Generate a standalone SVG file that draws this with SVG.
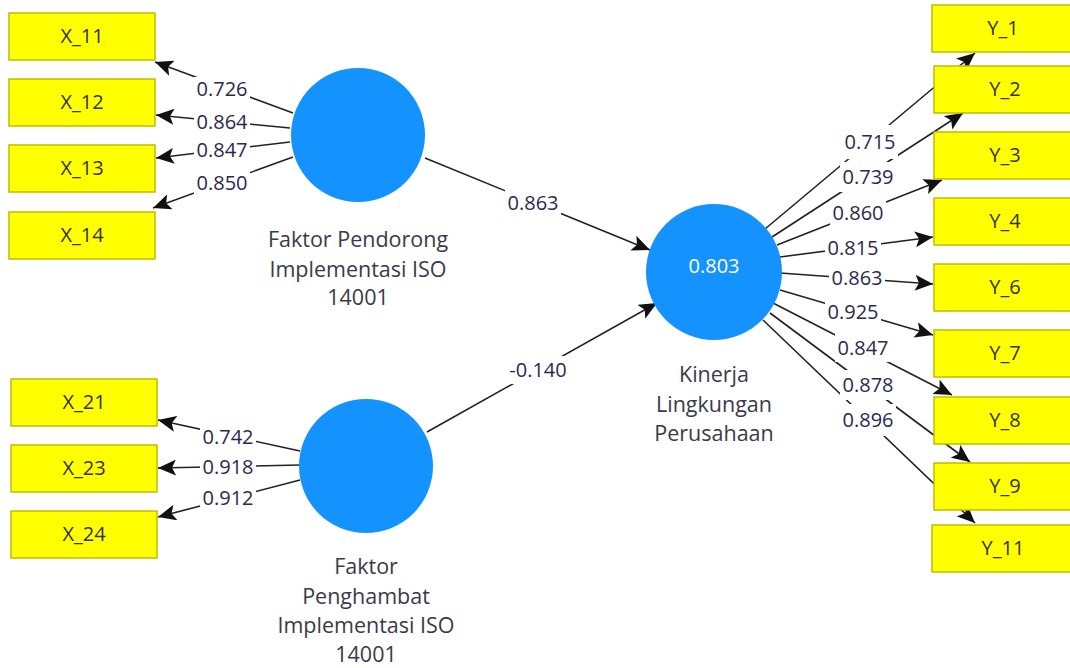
<svg xmlns="http://www.w3.org/2000/svg" width="1070" height="668" viewBox="0 0 1070 668">
  <style>
    text { font-family: "Open Sans", "Noto Sans", "Liberation Sans", sans-serif; font-size: 20px; fill: #333; text-anchor: middle; }
    .ind rect { fill: #ffff00; stroke: #bdbd00; stroke-width: 1.5; }
    .lv circle { fill: #1493ff; }
    .lv text { fill: #3a3a48; font-size: 21.5px; }
    .lv text.r2 { fill: #fff; font-size: 20px; }
    .conn line { stroke: #222; stroke-width: 1.6; marker-end: url(#arrow); }
    .lbl rect { fill: #fff; }
    .lbl text { fill: #2a2a50; }
  </style>
  <defs>
    <marker id="arrow" markerUnits="userSpaceOnUse" markerWidth="18" markerHeight="16" viewBox="0 0 18 16" refX="18" refY="8" orient="auto">
      <path d="M0,0 L18,8 L0,16 L4,8 Z" fill="#111"/>
    </marker>
  </defs>

  <!-- connectors -->
  <g id="connectors" class="conn">
    <line x1="293" y1="113" x2="155" y2="62"/>
    <line x1="290" y1="128" x2="156" y2="115"/>
    <line x1="290" y1="142" x2="156" y2="158"/>
    <line x1="293" y1="157" x2="153" y2="208"/>
    <line x1="300" y1="451" x2="158" y2="420"/>
    <line x1="300" y1="465" x2="158" y2="468"/>
    <line x1="300" y1="480" x2="158" y2="517"/>
    <line x1="425" y1="158" x2="650" y2="250"/>
    <line x1="427" y1="432" x2="657" y2="303"/>
    <line x1="765" y1="229" x2="975" y2="53"/>
    <line x1="772" y1="237" x2="963" y2="113"/>
    <line x1="777" y1="245" x2="942" y2="180"/>
    <line x1="780" y1="257" x2="933" y2="237"/>
    <line x1="780" y1="273" x2="933" y2="284"/>
    <line x1="780" y1="290" x2="933" y2="335"/>
    <line x1="773" y1="303" x2="952" y2="395"/>
    <line x1="770" y1="313" x2="970" y2="462"/>
    <line x1="763" y1="320" x2="975" y2="523"/>
  </g>

  <!-- path coefficients and loadings -->
  <g id="labels" class="lbl">
    <rect x="194" y="77" width="56" height="24"/><text x="222" y="96">0.726</text>
    <rect x="194" y="110" width="56" height="24"/><text x="222" y="129">0.864</text>
    <rect x="194" y="138" width="56" height="24"/><text x="222" y="157">0.847</text>
    <rect x="194" y="171" width="56" height="24"/><text x="222" y="190">0.850</text>
    <rect x="200" y="425" width="56" height="24"/><text x="228" y="444">0.742</text>
    <rect x="200" y="455" width="56" height="24"/><text x="228" y="474">0.918</text>
    <rect x="200" y="486" width="56" height="24"/><text x="228" y="505">0.912</text>
    <rect x="505" y="189" width="56" height="28"/><text x="533" y="210">0.863</text>
    <rect x="506" y="356" width="64" height="28"/><text x="538" y="377">-0.140</text>
    <rect x="842" y="125" width="56" height="34"/><text x="870" y="149">0.715</text>
    <rect x="840" y="162" width="56" height="30"/><text x="868" y="184">0.739</text>
    <rect x="830" y="200" width="56" height="26"/><text x="858" y="220">0.860</text>
    <rect x="825" y="236" width="56" height="24"/><text x="853" y="255">0.815</text>
    <rect x="829" y="266" width="56" height="24"/><text x="857" y="285">0.863</text>
    <rect x="825" y="300" width="56" height="24"/><text x="853" y="319">0.925</text>
    <rect x="835" y="334" width="56" height="28"/><text x="863" y="355">0.847</text>
    <rect x="840" y="370" width="56" height="30"/><text x="868" y="392">0.878</text>
    <rect x="840" y="404" width="56" height="32"/><text x="868" y="427">0.896</text>
  </g>

  <!-- latent variables -->
  <g id="faktor-pendorong" class="lv">
    <circle cx="358" cy="135" r="67"/>
    <text x="358" y="247">Faktor Pendorong</text>
    <text x="358" y="277">Implementasi ISO</text>
    <text x="358" y="305">14001</text>
  </g>
  <g id="faktor-penghambat" class="lv">
    <circle cx="366" cy="466" r="67"/>
    <text x="366" y="574">Faktor</text>
    <text x="366" y="604">Penghambat</text>
    <text x="366" y="633">Implementasi ISO</text>
    <text x="366" y="662">14001</text>
  </g>
  <g id="kinerja-lingkungan" class="lv">
    <circle cx="714" cy="272" r="68"/>
    <text x="714" y="273" class="r2">0.803</text>
    <text x="714" y="382">Kinerja</text>
    <text x="714" y="412">Lingkungan</text>
    <text x="714" y="441">Perusahaan</text>
  </g>

  <!-- indicators -->
  <g id="X_11" class="ind"><rect x="9" y="13" width="146" height="47"/><text x="82" y="43">X_11</text></g>
  <g id="X_12" class="ind"><rect x="9" y="79" width="146" height="47"/><text x="82" y="109">X_12</text></g>
  <g id="X_13" class="ind"><rect x="9" y="145" width="146" height="47"/><text x="82" y="175">X_13</text></g>
  <g id="X_14" class="ind"><rect x="9" y="212" width="146" height="47"/><text x="82" y="242">X_14</text></g>
  <g id="X_21" class="ind"><rect x="11" y="379" width="146" height="47"/><text x="84" y="409">X_21</text></g>
  <g id="X_23" class="ind"><rect x="11" y="445" width="146" height="47"/><text x="84" y="475">X_23</text></g>
  <g id="X_24" class="ind"><rect x="11" y="511" width="146" height="47"/><text x="84" y="541">X_24</text></g>

  <g id="Y_1" class="ind"><rect x="932" y="5" width="146" height="47"/><text x="1003" y="35">Y_1</text></g>
  <g id="Y_2" class="ind"><rect x="934" y="66" width="146" height="47"/><text x="1005" y="96">Y_2</text></g>
  <g id="Y_3" class="ind"><rect x="934" y="132" width="146" height="47"/><text x="1005" y="162">Y_3</text></g>
  <g id="Y_4" class="ind"><rect x="934" y="198" width="146" height="47"/><text x="1005" y="228">Y_4</text></g>
  <g id="Y_6" class="ind"><rect x="934" y="264" width="146" height="47"/><text x="1005" y="294">Y_6</text></g>
  <g id="Y_7" class="ind"><rect x="934" y="330" width="146" height="47"/><text x="1005" y="360">Y_7</text></g>
  <g id="Y_8" class="ind"><rect x="934" y="397" width="146" height="47"/><text x="1005" y="427">Y_8</text></g>
  <g id="Y_9" class="ind"><rect x="934" y="463" width="146" height="47"/><text x="1005" y="493">Y_9</text></g>
  <g id="Y_11" class="ind"><rect x="932" y="525" width="146" height="47"/><text x="1003" y="555">Y_11</text></g>
</svg>
